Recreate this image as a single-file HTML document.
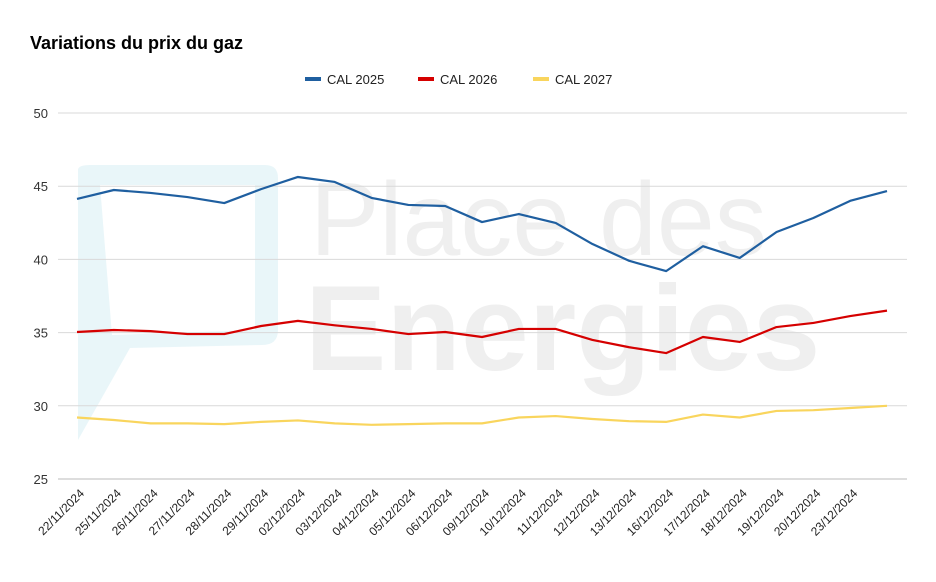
<!DOCTYPE html>
<html><head><meta charset="utf-8"><style>
body{margin:0;background:#fff;font-family:"Liberation Sans",Arial,sans-serif}
</style></head><body>
<svg id="chart" width="936" height="577" viewBox="0 0 936 577" xmlns="http://www.w3.org/2000/svg">
<rect width="936" height="577" fill="#fff"/>
<text x="30" y="49" font-size="18" font-weight="bold" fill="#000">Variations du prix du gaz</text>
<g>
<path d="M78 170 Q78 165 90 165 L265 165 Q278 165 278 178 L278 330 Q278 345 262 345 L130 348 L78 440 Z" fill="#e3f4f8" opacity="0.8"/>
<path d="M100 185 L255 185 L255 330 L112 335 Z" fill="#fff"/>
<text x="310" y="255" font-size="104" fill="#efefef" font-weight="normal">Place des</text>
<text x="305" y="370" font-size="122" fill="#efefef" font-weight="bold">Energies</text>
</g>
<g id="grid"></g><g id="series"></g><g id="xlabels"></g>
<g>
<g><rect x="305" y="77" width="16" height="4" fill="#1f5fa0"/><text x="327" y="84" font-size="13" fill="#222">CAL 2025</text></g>
<g><rect x="418" y="77" width="16" height="4" fill="#d50000"/><text x="440" y="84" font-size="13" fill="#222">CAL 2026</text></g>
<g><rect x="533" y="77" width="16" height="4" fill="#f9d55d"/><text x="555" y="84" font-size="13" fill="#222">CAL 2027</text></g>
</g>
</svg>
<script>
const categories=["22/11/2024","25/11/2024","26/11/2024","27/11/2024","28/11/2024","29/11/2024","02/12/2024","03/12/2024","04/12/2024","05/12/2024","06/12/2024","09/12/2024","10/12/2024","11/12/2024","12/12/2024","13/12/2024","16/12/2024","17/12/2024","18/12/2024","19/12/2024","20/12/2024","23/12/2024","24/12/2024"];
const cal2025=[44.13,44.74,44.54,44.26,43.85,44.8,45.63,45.29,44.2,43.72,43.65,42.55,43.1,42.49,41.05,39.9,39.2,40.9,40.1,41.87,42.83,44.0,44.67];
const cal2026=[35.04,35.18,35.1,34.9,34.9,35.45,35.8,35.5,35.25,34.9,35.04,34.7,35.25,35.25,34.5,34.0,33.6,34.7,34.36,35.38,35.66,36.13,36.5];
const cal2027=[29.2,29.03,28.8,28.8,28.75,28.9,29.0,28.8,28.7,28.75,28.8,28.8,29.2,29.3,29.1,28.95,28.9,29.4,29.2,29.65,29.7,29.85,30.0];
const yTicks=[25,30,35,40,45,50];
const NS="http://www.w3.org/2000/svg";
const x0=77,x1=887,yTop=113,yBot=479,vMin=25,vMax=50;
const xs=i=>x0+i*(x1-x0)/(categories.length-1);
const ys=v=>yBot-(v-vMin)/(vMax-vMin)*(yBot-yTop);
function mk(t,a){const e=document.createElementNS(NS,t);for(const k in a)e.setAttribute(k,a[k]);return e;}
const grid=document.getElementById('grid');
yTicks.forEach(v=>{
 const l=mk('line',{x1:58,x2:907,y1:ys(v),y2:ys(v),stroke:v===25?'#bbb':'#d9d9d9','stroke-width':1});
 
 
 grid.appendChild(l);
 const t=mk('text',{x:48,y:ys(v)+5,'text-anchor':'end','font-size':13,fill:'#333'});
 t.textContent=v;
 
 
 grid.appendChild(t);
});
const xl=document.getElementById('xlabels');
categories.slice(0,22).forEach((c,i)=>{
 const x=xs(i)+8,y=494;
 const t=mk('text',{x:x,y:y,'text-anchor':'end','font-size':12,fill:'#222',transform:`rotate(-45 ${x} ${y})`});
 t.textContent=c;
 
 
 xl.appendChild(t);
});
const sg=document.getElementById('series');
[[cal2025,'#1f5fa0','cal-2025'],[cal2026,'#d50000','cal-2026'],[cal2027,'#f9d55d','cal-2027']].forEach(([d,c,n])=>{
 const p=mk('polyline',{points:d.map((v,i)=>xs(i)+','+ys(v)).join(' '),fill:'none',stroke:c,'stroke-width':2.2,'stroke-linejoin':'round'});
 
 
 sg.appendChild(p);
});
</script>
</body></html>
